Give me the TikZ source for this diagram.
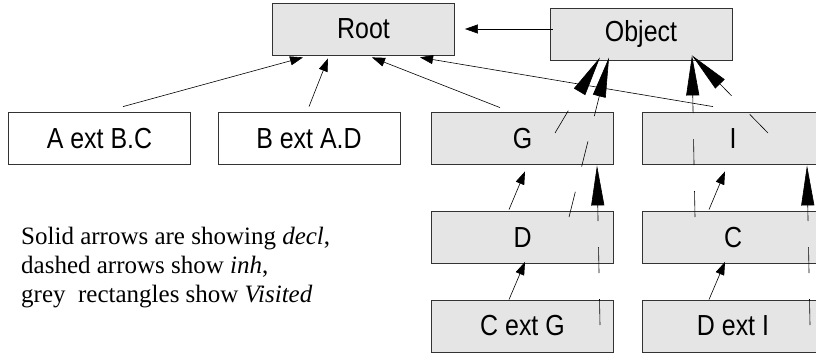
\documentclass[tikz,border=0pt]{standalone}
\usepackage{fontspec}
\setmainfont{Liberation Serif}
\newfontfamily\kastenfont[FakeStretch=0.86]{Liberation Sans}
\usetikzlibrary{arrows.meta}

\tikzset{
	kasten/.style={draw=black!80,line width=0.8pt,minimum width=182pt,minimum height=52pt,inner sep=0pt,font=\kastenfont\fontsize{29}{34}\selectfont},
	besucht/.style={kasten,fill=black!10},
	decl/.style={-{Triangle[length=13pt,width=9pt]},line width=0.6pt},
	inh/.style={-{Triangle[length=40pt,width=13pt]},line width=0.6pt,dash pattern=on 26pt off 26pt},
	legende/.style={anchor=base west,inner sep=0pt,font=\fontsize{25}{29}\selectfont}
}

\begin{document}
\begin{tikzpicture}[x=1pt,y=-1pt]
\useasboundingbox (0,0) rectangle (816,358);

\node[besucht] (root) at (363.5,29) {Root};
\node[besucht] (obj) at (641,34) {Object};
\node[kasten] (aext) at (99.5,138.5) {A ext B.C};
\node[kasten] (bext) at (309,138.5) {B ext A.D};
\node[besucht] (g) at (522.5,138.5) {G};
\node[besucht] (i) at (733,138.5) {I};
\node[besucht] (d) at (522.5,237.5) {D};
\node[besucht] (c) at (733,237.5) {C};
\node[besucht] (cextg) at (522.5,326) {C ext G};
\node[besucht] (dexti) at (733,326) {D ext I};

\node[legende] (leg1) at (21,244) {Solid arrows are showing \textit{decl},};
\node[legende] (leg2) at (21,273) {dashed arrows show \textit{inh},};
\node[legende] (leg3) at (21,302) {grey\ \ rectangles show \textit{Visited}};

\draw[decl] ([xshift=23.5pt,yshift=5.5pt]aext.north) -- ([xshift=-60.5pt,yshift=-2pt]root.south);
\draw[decl] ([yshift=5.5pt]bext.north) -- ([xshift=-35.5pt,yshift=-3pt]root.south);
\draw[decl] ([xshift=-22.5pt,yshift=4.5pt]g.north) -- ([xshift=8.5pt,yshift=-2pt]root.south);
\draw[decl] ([xshift=-20pt,yshift=5.5pt]i.north) -- ([xshift=56.5pt,yshift=-2pt]root.south);
\draw[decl] ([xshift=3pt,yshift=5pt]obj.west) -- ([xshift=10pt]root.east);
\draw[decl] ([xshift=-13.5pt,yshift=1.5pt]d.north) -- ([xshift=2.5pt,yshift=-6.5pt]g.south);
\draw[decl] ([xshift=-24pt,yshift=1.5pt]c.north) -- ([xshift=-8pt,yshift=-6.5pt]i.south);
\draw[decl] ([xshift=-13.5pt]cextg.north) -- ([xshift=2.5pt,yshift=2pt]d.south);
\draw[decl] ([xshift=-24pt]dexti.north) -- ([xshift=-8pt,yshift=2pt]c.south);

\draw[inh] ([xshift=32.5pt,yshift=5.5pt]g.center) -- ([xshift=-41pt,yshift=3pt]obj.south);
\draw[inh] ([xshift=46.5pt,yshift=20.5pt]d.center) -- ([xshift=-32pt,yshift=3pt]obj.south);
\draw[inh] ([xshift=-38pt,yshift=20.5pt]c.center) -- ([xshift=51pt,yshift=5pt]obj.south);
\draw[inh] ([xshift=35pt,yshift=5.5pt]i.center) -- ([xshift=51pt,yshift=5pt]obj.south);
\draw[inh] ([xshift=77.5pt,yshift=1pt]cextg.center) -- ([xshift=74.5pt,yshift=-0.5pt]g.south);
\draw[inh] ([xshift=77pt,yshift=1pt]dexti.center) -- ([xshift=74pt,yshift=-0.5pt]i.south);
\end{tikzpicture}
\end{document}
